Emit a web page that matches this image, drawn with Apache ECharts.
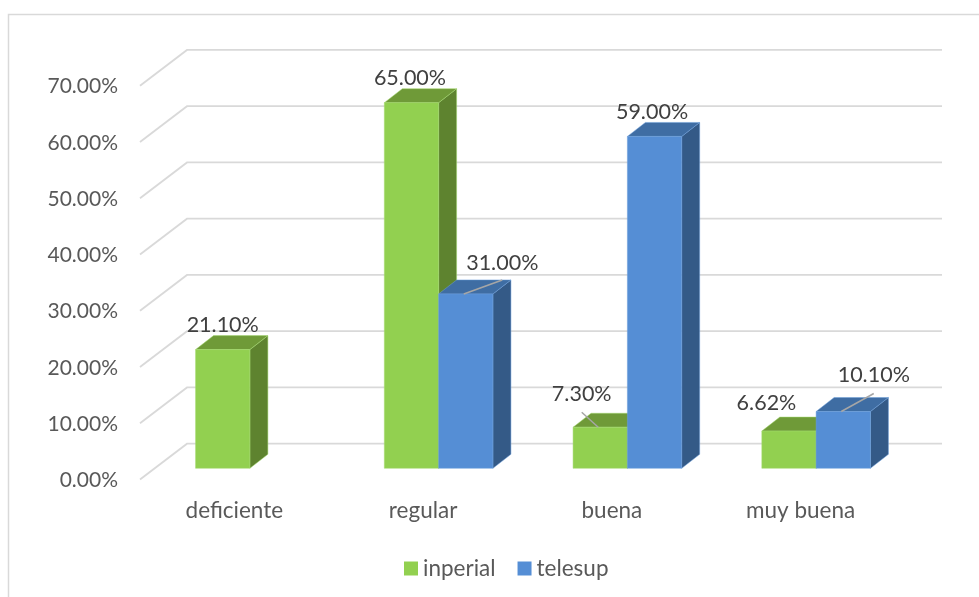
<!DOCTYPE html>
<html>
<head>
<meta charset="utf-8">
<style>html,body{margin:0;padding:0;background:#fff}#chart{width:979px;height:597px}</style>
<script src="https://cdn.jsdelivr.net/npm/echarts@6/dist/echarts.min.js"></script>
</head>
<body>
<div id="chart"></div>
<script>
// Survey results per rating, one value per category
var categories = ['deficiente', 'regular', 'buena', 'muy buena'];
var inperial = [21.10, 65.00, 7.30, 6.62];
var telesup = [null, 31.00, 59.00, 10.10];
var yTicks = [0, 10, 20, 30, 40, 50, 60, 70];

// Label placement relative to the top centre of each bar: [dx, dy, hasLeader]
var inperialLabels = [[0, -25, false], [-1.5, -25, false], [-18.5, -33, true], [-22.5, -28, false]];
var telesupLabels = [null, [36.5, -31, true], [-2.5, -24, false], [30.5, -36, true]];

var FONT = 'Lato';
var BAR_RATIO = 0.2877;   // bar width as a share of the category band
var DEPTH_X = 18, DEPTH_Y = 14;   // oblique depth of a bar
var WALL_FRONT = [-15.5, 11.2];   // front edge of the floor relative to the bars' plane
var WALL_BACK = [31.5, -24.6];    // back wall relative to the bars' plane

var fmt = function (v) { return v.toFixed(2) + '%'; };

function pairs(values) {
  var out = [];
  values.forEach(function (v, i) { if (v !== null) out.push([i, v]); });
  return out;
}

// Oblique bar with front, side and top faces, its value label and optional leader line
function bar3d(colors, side, labels) {
  return function (params, api) {
    var idx = api.value(0), val = api.value(1);
    var base = api.coord([idx, 0]);
    var top = api.coord([idx, val]);
    var w = api.size([1, 0])[0] * BAR_RATIO;
    var x0 = side < 0 ? base[0] - w : base[0];
    var x1 = x0 + w;
    var yb = base[1], yt = top[1];
    var place = labels[idx];
    var cx = (x0 + x1) / 2;
    var kids = [
      { type: 'polygon', z2: 1, shape: { points: [[x1, yb], [x1 + DEPTH_X, yb - DEPTH_Y], [x1 + DEPTH_X, yt - DEPTH_Y], [x1, yt]] },
        style: { fill: colors.side, stroke: colors.edge, lineWidth: 0.5 } },
      { type: 'polygon', z2: 1, shape: { points: [[x0, yt], [x1, yt], [x1 + DEPTH_X, yt - DEPTH_Y], [x0 + DEPTH_X, yt - DEPTH_Y]] },
        style: { fill: colors.top, stroke: colors.edge, lineWidth: 0.5 } },
      { type: 'rect', z2: 2, shape: { x: x0, y: yt, width: w, height: yb - yt },
        style: { fill: colors.front, stroke: colors.edge, lineWidth: 0.5 } }
    ];
    if (place[2]) {
      var lineDy = place[1] + (place[1] < -32 ? 18 : 17);
      kids.push({ type: 'line', z2: 3, shape: { x1: cx - 2, y1: yt, x2: cx + place[0], y2: yt + lineDy },
        style: { stroke: '#A6A6A6', lineWidth: 1.5 } });
    }
    kids.push({ type: 'text', z2: 4, x: cx + place[0], y: yt + place[1],
      style: { text: fmt(val), fill: '#404040', font: '21.5px ' + FONT, textAlign: 'center', textVerticalAlign: 'middle' } });
    return { type: 'group', children: kids };
  };
}

// Oblique gridline: floor diagonal followed by the run along the back wall
function wallLine(params, api) {
  var p = api.coord([0, api.value(1)]);
  var band = api.size([1, 0])[0];
  var left = p[0] - band / 2;
  var a = [left + WALL_FRONT[0], p[1] + WALL_FRONT[1]];
  var b = [left + WALL_BACK[0], p[1] + WALL_BACK[1]];
  var c = [b[0] + band * categories.length, b[1]];
  return { type: 'polyline', shape: { points: [a, b, c] },
    style: { stroke: '#D9D9D9', lineWidth: 1.8, fill: null } };
}

var chart = echarts.init(document.getElementById('chart'), null, { renderer: 'canvas' });
chart.setOption({
  animation: false,
  backgroundColor: '#fff',
  textStyle: { fontFamily: FONT },
  grid: { left: 155.5, right: 68.5, top: 74.55, bottom: 128.7, containLabel: false },
  xAxis: {
    type: 'category', data: categories,
    axisLine: { show: false }, axisTick: { show: false }, splitLine: { show: false },
    axisLabel: { color: '#595959', fontSize: 22.5, fontFamily: FONT, margin: 31, padding: [0, 31, 0, 0], interval: 0 }
  },
  yAxis: {
    type: 'value', min: 0, max: 70, interval: 10,
    axisLine: { show: false }, axisTick: { show: false }, splitLine: { show: false },
    axisLabel: { color: '#595959', fontSize: 21, fontFamily: FONT, margin: 37.5, lineHeight: 24, verticalAlign: 'top', formatter: fmt }
  },
  legend: {
    left: 399, top: 552, itemWidth: 14, itemHeight: 14, itemGap: 22,
    icon: 'rect', data: ['inperial', 'telesup'],
    textStyle: { color: '#595959', fontSize: 22.5, fontFamily: FONT }
  },
  graphic: [{
    type: 'polyline', silent: true, z: -1,
    shape: { points: [[8.5, 597], [8.5, 14.5], [979, 14.5]] },
    style: { stroke: '#D9D9D9', lineWidth: 1.5, fill: null }
  }],
  series: [
    { type: 'custom', name: 'walls', z: 1, silent: true, data: yTicks.map(function (t) { return [0, t]; }),
      encode: { x: 0, y: 1 }, renderItem: wallLine },
    { type: 'custom', name: 'inperial', z: 2, data: pairs(inperial), encode: { x: 0, y: 1 },
      itemStyle: { color: '#92D050' },
      renderItem: bar3d({ front: '#92D050', side: '#5E832F', top: '#6F9A38', edge: '#A3D86F' }, -1, inperialLabels) },
    { type: 'custom', name: 'telesup', z: 3, data: pairs(telesup), encode: { x: 0, y: 1 },
      itemStyle: { color: '#558ED5' },
      renderItem: bar3d({ front: '#558ED5', side: '#345A87', top: '#3F6DA3', edge: '#6C9EDB' }, 1, telesupLabels) }
  ]
});
</script>
</body>
</html>
